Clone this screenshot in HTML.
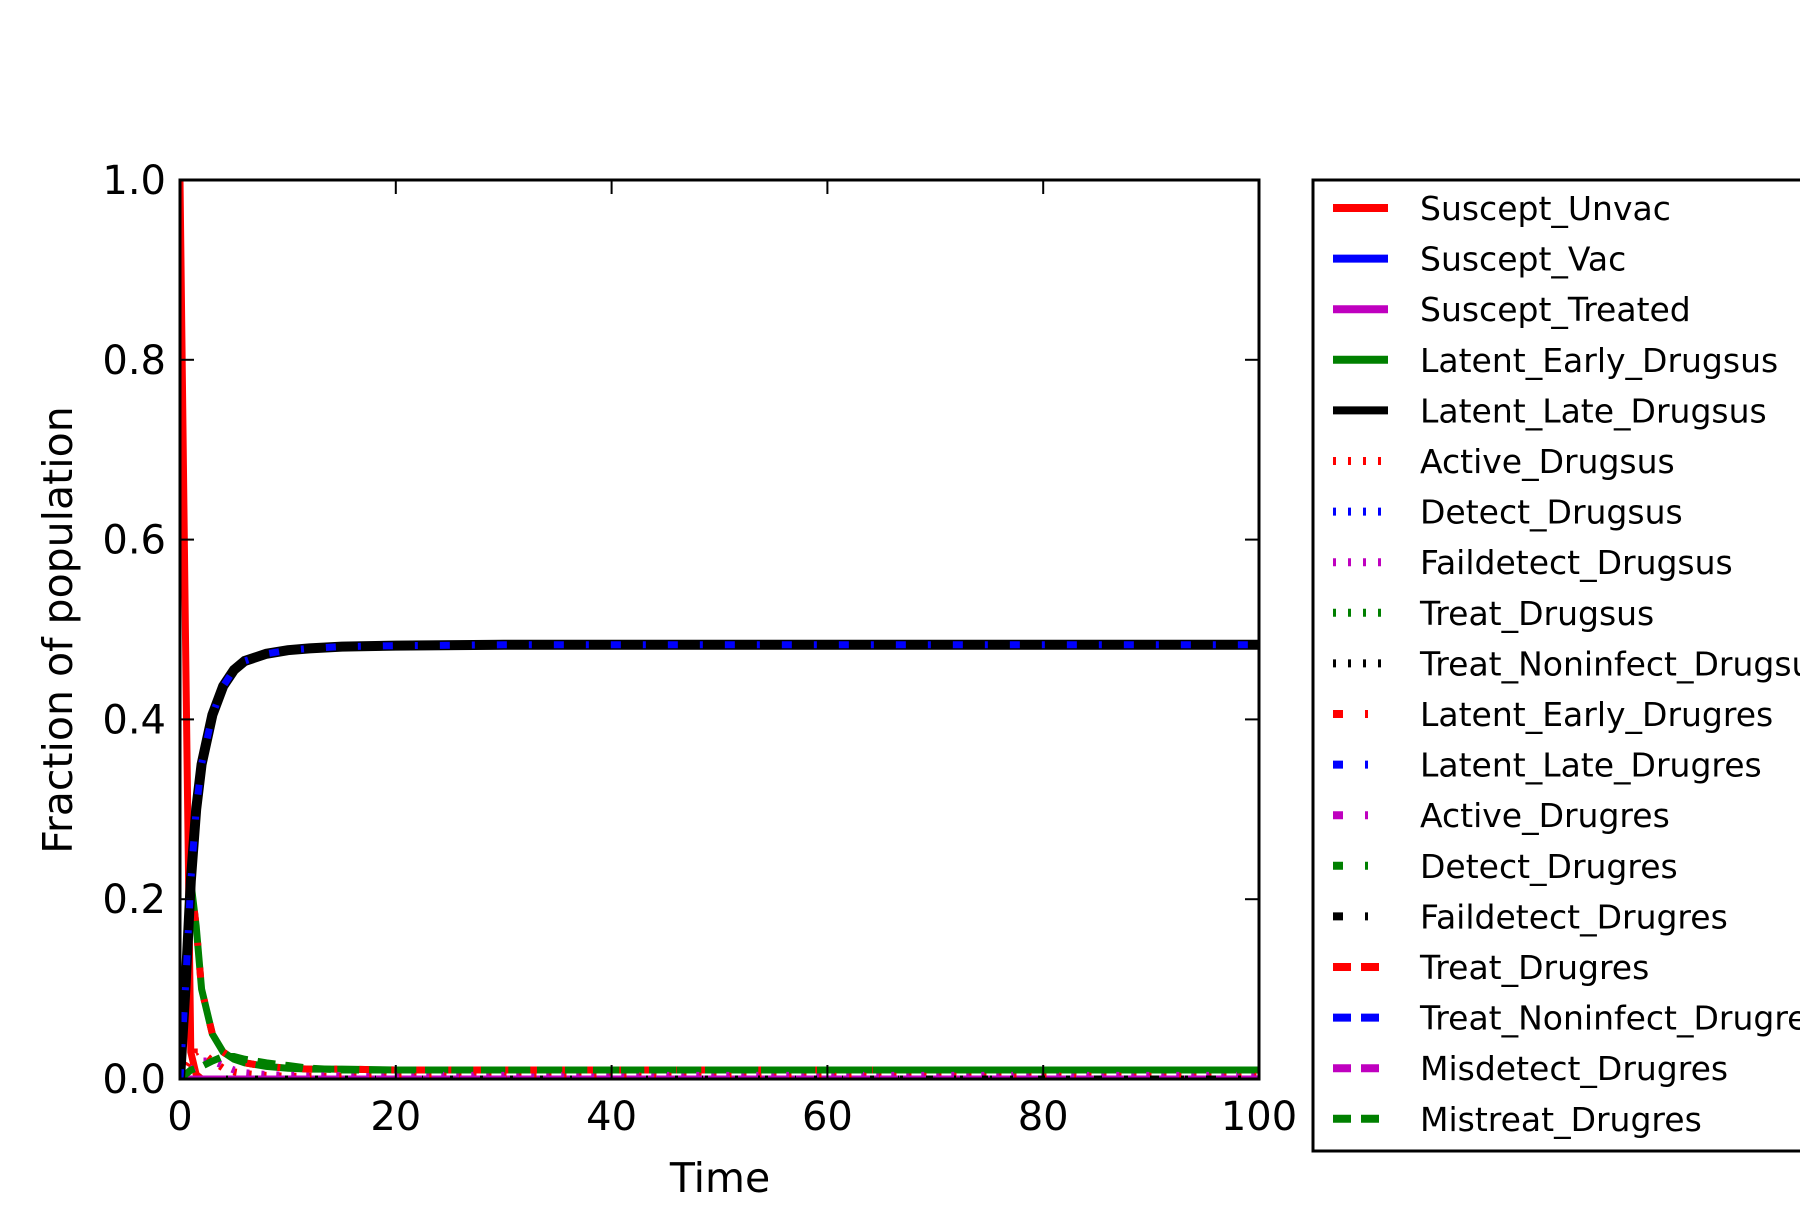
<!DOCTYPE html>
<html><head><meta charset="utf-8"><style>
body{margin:0;background:#fff}
svg text{font-family:"DejaVu Sans","Liberation Sans",sans-serif}
</style></head><body>
<svg id="chart" width="1800" height="1200" viewBox="0 0 1800 1200" xmlns="http://www.w3.org/2000/svg">
<rect width="1800" height="1200" fill="#fff"/>
<defs><clipPath id="clip"><rect x="180" y="180" width="1079" height="899"/></clipPath></defs>
<g id="plot" clip-path="url(#clip)"></g>
<rect x="180" y="180" width="1079" height="899" fill="none" stroke="#000" stroke-width="3"/>
<g id="ticks"></g>
<text x="720" y="1192" font-size="41" text-anchor="middle">Time</text>
<text transform="translate(72,630) rotate(-90)" font-size="41" text-anchor="middle">Fraction of population</text>
<rect x="1313" y="180" width="500" height="971" fill="#fff" stroke="#000" stroke-width="3"/>
<g id="legend"></g>
</svg>
<script>
const times=[0,0.5,1,1.5,2,3,4,5,6,8,10,12,15,20,30,50,100];
const susUnvac=[1,0.5,0.03,0.005,0,0,0,0,0,0,0,0,0,0,0,0,0];
const lateSus=[0,0.1,0.22,0.3,0.35,0.405,0.437,0.455,0.465,0.473,0.477,0.479,0.481,0.482,0.483,0.483,0.483];
const earlySus=[0,0.1,0.22,0.17,0.1,0.05,0.03,0.022,0.018,0.014,0.012,0.011,0.011,0.01,0.01,0.01,0.01];
const activeSus=[0,0.01,0.02,0.03,0.03,0.02,0.012,0.008,0.006,0.004,0.003,0.003,0.003,0.003,0.003,0.003,0.003];
const failSus=[0,0.005,0.01,0.015,0.02,0.02,0.015,0.01,0.007,0.005,0.004,0.004,0.004,0.004,0.004,0.004,0.004];
const mistreat=[0,0.005,0.01,0.012,0.014,0.02,0.025,0.025,0.022,0.018,0.015,0.012,0.01,0.01,0.01,0.01,0.01];
const zeroS=[0,0,0,0,0,0,0,0,0,0,0,0,0,0,0,0,0];
const xTicks=[0,20,40,60,80,100];
const yTicks=[0,0.2,0.4,0.6,0.8,1.0];
const names=["Suscept_Unvac","Suscept_Vac","Suscept_Treated","Latent_Early_Drugsus","Latent_Late_Drugsus","Active_Drugsus","Detect_Drugsus","Faildetect_Drugsus","Treat_Drugsus","Treat_Noninfect_Drugsus","Latent_Early_Drugres","Latent_Late_Drugres","Active_Drugres","Detect_Drugres","Faildetect_Drugres","Treat_Drugres","Treat_Noninfect_Drugres","Misdetect_Drugres","Mistreat_Drugres"];
const colors=["red","blue","#bf00bf","green","black"];
const NS="http://www.w3.org/2000/svg";
const X=t=>180+t/100*1079, Y=v=>1079-v*899;
function styleFor(i){if(i<5)return "";if(i<10)return "3 12";if(i<15)return "10 22 3 22";return "18 10";}
const seriesData=[susUnvac,zeroS,zeroS,earlySus,lateSus,activeSus,zeroS,failSus,zeroS,zeroS,earlySus,lateSus,zeroS,zeroS,zeroS,zeroS,zeroS,zeroS,mistreat];
const order=[0,1,2,3,5,6,7,8,9,10,12,13,14,15,16,17,18,4,11];
const plot=document.getElementById('plot');
order.forEach(i=>{
 const p=document.createElementNS(NS,'polyline');
 p.setAttribute('points',times.map((t,k)=>X(t)+','+Y(seriesData[i][k])).join(' '));
 p.setAttribute('fill','none');p.setAttribute('stroke',colors[i%5]);
 p.setAttribute('stroke-width',i===4?10:7);
 const d=styleFor(i); if(d)p.setAttribute('stroke-dasharray',d);
 
 
 plot.appendChild(p);
});
const tk=document.getElementById('ticks');
function add(tag,attrs,txt){const e=document.createElementNS(NS,tag);for(const k in attrs)e.setAttribute(k,attrs[k]);if(txt!==undefined)e.textContent=txt;tk.appendChild(e);return e;}
xTicks.forEach(v=>{const x=X(v);
 add('line',{x1:x,x2:x,y1:1079,y2:1065,stroke:'#000','stroke-width':2});
 add('line',{x1:x,x2:x,y1:180,y2:194,stroke:'#000','stroke-width':2});
 const t=add('text',{x:x,y:1130,'font-size':40,'text-anchor':'middle'},String(v));
 
 
});
yTicks.forEach(v=>{const y=Y(v);
 add('line',{x1:180,x2:194,y1:y,y2:y,stroke:'#000','stroke-width':2});
 add('line',{x1:1259,x2:1245,y1:y,y2:y,stroke:'#000','stroke-width':2});
 const t=add('text',{x:166,y:y+14,'font-size':40,'text-anchor':'end'},v.toFixed(1));
 
 
});
const lg=document.getElementById('legend');
names.forEach((n,i)=>{const y=208+i*50.6;
 const g=document.createElementNS(NS,'g');
 
 
 const l=document.createElementNS(NS,'line');
 l.setAttribute('x1',1333);l.setAttribute('x2',1388);l.setAttribute('y1',y);l.setAttribute('y2',y);
 l.setAttribute('stroke',colors[i%5]);l.setAttribute('stroke-width',8);
 const d=styleFor(i); if(d)l.setAttribute('stroke-dasharray',d);
 g.appendChild(l);
 const t=document.createElementNS(NS,'text');
 t.setAttribute('x',1420);t.setAttribute('y',y+12);t.setAttribute('font-size',33);
 t.textContent=n;g.appendChild(t);lg.appendChild(g);
});
</script>
</body></html>
